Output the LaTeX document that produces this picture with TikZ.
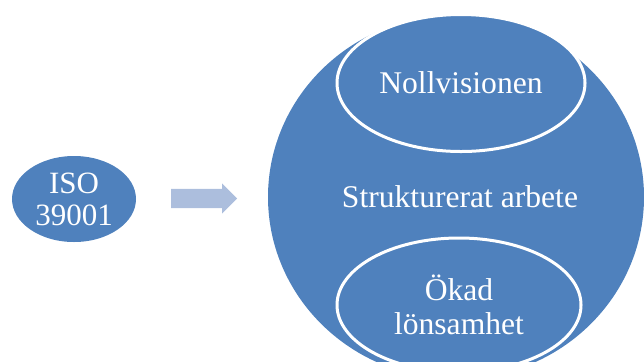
\documentclass[tikz,border=0pt]{standalone}
\usepackage{fontspec}
\setmainfont{Liberation Serif}
\usetikzlibrary{shapes.geometric,shapes.arrows}
\definecolor{accblue}{RGB}{79,129,189}
\definecolor{arrowblue}{RGB}{172,190,221}
\begin{document}
\begin{tikzpicture}[x=1bp,y=-1bp,
  blob/.style={ellipse, fill=accblue, inner sep=0pt, text=white, align=center},
  inner/.style={blob, draw=white, line width=3bp},
  txt/.style={font=\fontsize{31.6bp}{34bp}\selectfont}]
\useasboundingbox (0,0) rectangle (644,361);
\clip (0,0) rectangle (644,361);
\node[blob, minimum width=124bp, minimum height=86bp, txt, font=\fontsize{31bp}{32bp}\selectfont] (iso) at (74,199) {ISO\\39001};
\node[single arrow, fill=arrowblue, inner xsep=0pt, inner ysep=9.5bp, minimum height=66bp,
  single arrow head extend=5.5bp, single arrow tip angle=90, anchor=tail] (arr) at (171,198.5) {};
\node[blob, minimum width=376bp, minimum height=364bp] (big) at (456,197) {};
\node[txt, text=white] (struct) at (460,197) {Strukturerat arbete};
\node[inner, minimum width=248bp, minimum height=137bp, txt] (noll) at (461,83) {Nollvisionen};
\node[inner, minimum width=244bp, minimum height=134bp, txt] (okad) at (459,305) {Ökad\\lönsamhet};
\end{tikzpicture}
\end{document}
